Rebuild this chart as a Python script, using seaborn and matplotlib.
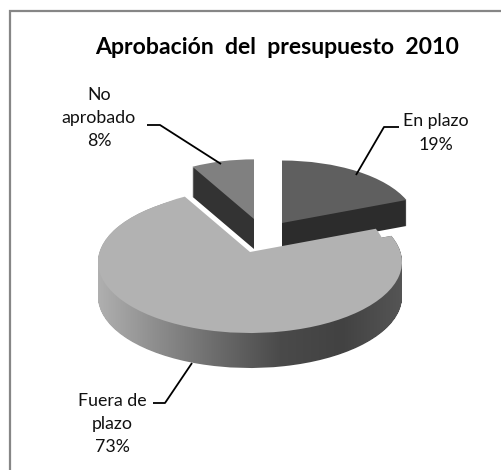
import numpy as np
import matplotlib
matplotlib.use("Agg")
import matplotlib.pyplot as plt
from matplotlib.lines import Line2D
from matplotlib.patches import PathPatch
from matplotlib.path import Path
from matplotlib.colors import LinearSegmentedColormap
import seaborn as sns

categories = ["En plazo", "Fuera de plazo", "No aprobado"]
values = [19, 73, 8]
label_texts = ["En plazo\n19%", "Fuera de\nplazo\n73%", "No\naprobado\n8%"]
title_text = "Aprobación  del  presupuesto  2010"

top_colors = ["#5f5f5f", "#b2b2b2", "#808080"]
side_colors = ["#2c2c2c", None, "#333333"]
side_gradient = ["#b0b0b0", "#8c8c8c", "#6a6a6a", "#4a4a4a", "#424242", "#555555"]

W, H = 501, 470
sns.set_theme(style="white")
plt.rcParams["font.family"] = ["Lato", "DejaVu Sans"]

fig = plt.figure(figsize=(W / 100, H / 100), dpi=100)
ax = fig.add_axes([0, 0, 1, 1])

CX, CY, RX, RY = 250, 262, 152, 71
def px(x, y):
    return (x - CX) / RX, (CY - y) / RY

def wedge(i, x, y, r, color, z):
    c = px(x, y)
    ws, _ = ax.pie(values, startangle=90, counterclock=False, radius=r, center=c,
                   colors=[color] * len(values), wedgeprops=dict(linewidth=0, zorder=z),
                   normalize=True, frame=True)
    for j, w in enumerate(ws):
        if j != i:
            w.remove()
    return ws[i]

# detached slices: depth is built by stacking the same slice
for i, (x, y, r, depth) in {0: (282, 223, 0.88, 26), 2: (254, 219, 0.84, 30)}.items():
    for d in range(1, depth + 1):
        wedge(i, x, y + d, r, side_colors[i], 2)
    wedge(i, x, y, r, top_colors[i], 3)

# main slice: rim with gradient, clipped to the swept slice
sweep = []
for d in range(0, 36):
    w = wedge(1, CX, CY + d, 1.0, "none", 4)
    sweep.append(w.get_path().transformed(w.get_patch_transform()))
    w.remove()
clip = PathPatch(Path.make_compound_path(*sweep), transform=ax.transData, fc="none", ec="none")
ax.add_patch(clip)
cmap = LinearSegmentedColormap.from_list("rim", side_gradient)
xa, _ = px(97, 0); xb, _ = px(403, 0)
_, ya = px(0, 400); _, yb = px(0, 200)
im = ax.imshow(np.linspace(0, 1, 256)[None, :], cmap=cmap, extent=[xa, xb, ya, yb],
               aspect="auto", zorder=4, interpolation="bilinear")
im.set_clip_path(clip)

wedge(1, CX, CY, 1.0, top_colors[1], 5)
wedge(1, CX, 252, 0.89, top_colors[1], 5)

ax.set_aspect("auto")
ax.set_xlim(px(0, 0)[0], px(W, 0)[0])
ax.set_ylim(px(0, H)[1], px(0, 0)[1])
ax.axis("off")

# frame: only the top and left edges fall inside the picture
fig.add_artist(Line2D([9.5 / W, 9.5 / W, 1], [0, 1 - 10.5 / H, 1 - 10.5 / H],
                      transform=fig.transFigure, color="#868686", lw=1.6,
                      solid_joinstyle="miter"))

fig.text(277 / W, 1 - 48 / H, title_text, ha="center", va="center", fontsize=16.6,
         fontweight="bold", color="black")

label_pos = [(436, 133), (112, 424), (99, 118)]
for t, (x, y) in zip(label_texts, label_pos):
    fig.text(x / W, 1 - y / H, t, ha="center", va="center", fontsize=12.8, color="#111111",
             linespacing=1.55)

leaders = [[(399, 127), (384, 127), (356, 175)],
           [(153, 403), (165, 403), (192, 363)],
           [(147, 125), (160, 125), (221, 164)]]
for line in leaders:
    pts = [px(*p) for p in line]
    ax.plot(*zip(*pts), color="black", lw=1.3, zorder=6, solid_capstyle="butt")

fig.savefig("out.png", dpi=100)
